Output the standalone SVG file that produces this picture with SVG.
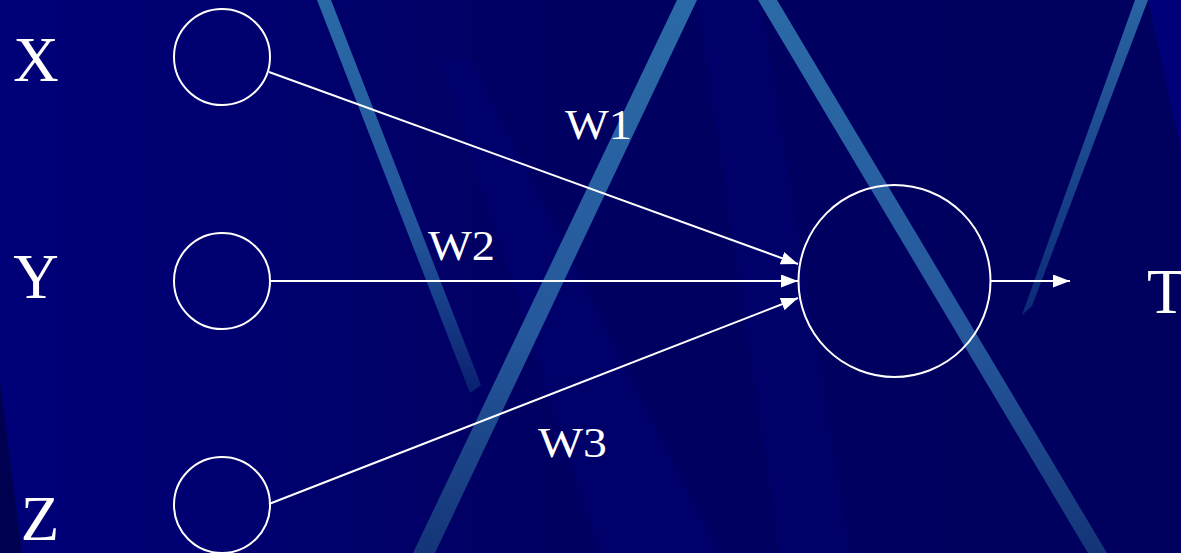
<svg xmlns="http://www.w3.org/2000/svg" width="1181" height="553" viewBox="0 0 1181 553">
  <defs>
    <linearGradient id="bg" x1="0" y1="0" x2="1" y2="0">
      <stop offset="0" stop-color="#000078"/>
      <stop offset="0.2" stop-color="#000070"/>
      <stop offset="0.45" stop-color="#000062"/>
      <stop offset="1" stop-color="#00005e"/>
    </linearGradient>
    <linearGradient id="s1" x1="0" y1="0" x2="0" y2="1">
      <stop offset="0" stop-color="#2a6aa6"/>
      <stop offset="0.6" stop-color="#22549a"/>
      <stop offset="1" stop-color="#0a2070"/>
    </linearGradient>
    <linearGradient id="s2" x1="0" y1="0" x2="0" y2="1">
      <stop offset="0" stop-color="#2b6aa6"/>
      <stop offset="0.6" stop-color="#25589c"/>
      <stop offset="1" stop-color="#143578"/>
    </linearGradient>
    <linearGradient id="s4" x1="0" y1="0" x2="0" y2="1">
      <stop offset="0" stop-color="#2a64a2"/>
      <stop offset="1" stop-color="#0c2a78"/>
    </linearGradient>
    <marker id="arr" viewBox="0 0 17 13" refX="17" refY="6.5" markerWidth="17" markerHeight="13" markerUnits="userSpaceOnUse" orient="auto">
      <path d="M0,0 L17,6.5 L0,13 Z" fill="#ffffff"/>
    </marker>
    <style>
      .node { fill: none; stroke: #ffffff; stroke-width: 2; }
      .edge { stroke: #ffffff; stroke-width: 2; fill: none; marker-end: url(#arr); }
      .lbl { font-family: "Liberation Serif", "DejaVu Serif", serif; fill: #ffffff; }
      .big { font-size: 63px; }
      .w { font-size: 43px; }
    </style>
  </defs>

  <g id="background">
    <rect x="0" y="0" width="1181" height="553" fill="url(#bg)"/>
    <polygon points="0,380 22,553 0,553" fill="#000050"/>
    <polygon points="440,60 470,60 720,553 600,553" fill="#00006e" opacity="0.8"/>
    <polygon points="697,0 760,0 850,553 780,553" fill="#000070" opacity="0.6"/>
    <polygon points="1148,0 1181,0 1181,150" fill="#000078"/>
    <polygon points="317,0 331,0 481,385 470,393" fill="url(#s1)"/>
    <polygon points="677,0 697,0 435,553 413,553" fill="url(#s2)"/>
    <polygon points="758,0 777,0 1107,553 1088,553" fill="url(#s2)"/>
    <polygon points="1135,0 1148,0 1032,306 1022,315" fill="url(#s4)"/>
  </g>

  <g id="connectors">
    <line class="edge" x1="269" y1="72" x2="798" y2="264"/>
    <line class="edge" x1="270" y1="281" x2="798" y2="281"/>
    <line class="edge" x1="269" y1="504" x2="798" y2="298"/>
    <line class="edge" x1="991" y1="281" x2="1070" y2="281"/>
  </g>

  <g id="node-x">
    <circle class="node" cx="222" cy="57" r="48"/>
    <text class="lbl big" x="36" y="81" text-anchor="middle">X</text>
  </g>
  <g id="node-y">
    <circle class="node" cx="222" cy="281" r="48"/>
    <text class="lbl big" x="36" y="298" text-anchor="middle">Y</text>
  </g>
  <g id="node-z">
    <circle class="node" cx="222" cy="505" r="48"/>
    <text class="lbl big" x="40" y="540" text-anchor="middle">Z</text>
  </g>
  <g id="node-sum">
    <circle class="node" cx="894.5" cy="281" r="96"/>
  </g>
  <g id="node-t">
    <text class="lbl big" x="1147" y="313">T</text>
  </g>

  <g id="weights">
    <text class="lbl w" x="565" y="139" textLength="67" lengthAdjust="spacingAndGlyphs">W1</text>
    <text class="lbl w" x="428" y="260" textLength="67" lengthAdjust="spacingAndGlyphs">W2</text>
    <text class="lbl w" x="538" y="457" textLength="69" lengthAdjust="spacingAndGlyphs">W3</text>
  </g>
</svg>
